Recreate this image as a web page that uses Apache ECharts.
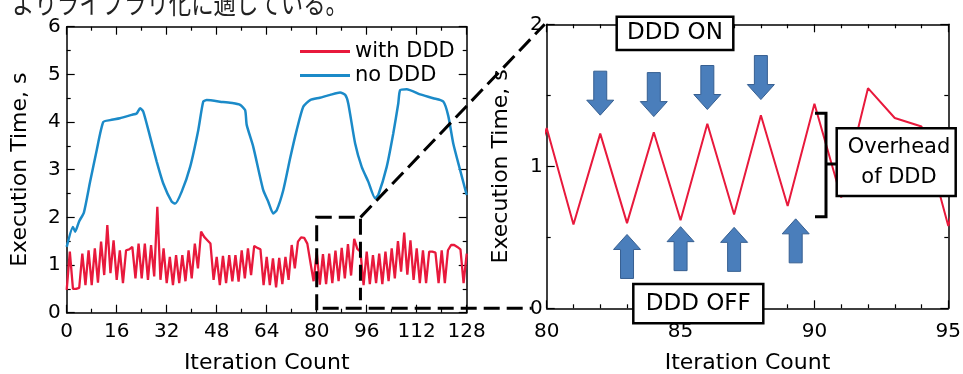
<!DOCTYPE html>
<html>
<head>
<meta charset="utf-8">
<script src="https://cdn.jsdelivr.net/npm/echarts@6/dist/echarts.min.js"></script>
<style>
  html, body { margin: 0; padding: 0; background: #fff; }
  #chart { width: 963px; height: 374px; }
</style>
</head>
<body>
<div id="chart"></div>
<script>
// Execution time per iteration with DDD (index = iteration 0..128)
const withDdd = [
  0.48, 1.28, 0.50, 0.50, 0.52, 1.24, 0.58, 1.31, 0.58, 1.35, 0.63, 1.49, 0.79, 1.84, 0.83, 1.52,
  0.69, 1.31, 0.62, 1.31, 1.33, 1.38, 0.72, 1.45, 0.72, 1.45, 0.69, 1.42, 0.76, 2.22, 0.69, 1.35,
  0.62, 1.17, 0.58, 1.21, 0.62, 1.21, 0.66, 1.31, 0.72, 1.45, 0.93, 1.70, 1.59, 1.52, 1.45, 0.69,
  1.17, 0.58, 1.19, 0.62, 1.21, 0.66, 1.21, 0.65, 1.31, 0.72, 1.35, 0.79, 1.40, 1.36, 1.33, 0.58,
  1.17, 0.58, 1.14, 0.53, 1.15, 0.60, 1.17, 0.69, 1.42, 0.93, 1.49, 1.58, 1.57, 1.45, 1.05, 0.66,
  1.27, 0.59, 1.23, 0.60, 1.24, 0.62, 1.30, 0.66, 1.36, 0.72, 1.44, 0.78, 1.55, 1.34, 1.28, 0.58,
  1.28, 0.60, 1.21, 0.62, 1.24, 0.60, 1.28, 0.66, 1.35, 0.72, 1.50, 0.86, 1.68, 0.80, 1.52, 0.69,
  1.35, 0.62, 1.31, 0.62, 1.28, 1.28, 1.26, 0.62, 1.31, 0.62, 1.31, 1.42, 1.42, 1.38, 1.33, 0.62,
  1.24
];

// Execution time without DDD, sampled along the curve
const noDddIter = [
  0, 2, 2.7, 4, 5.5, 7.5, 9.6, 11.7, 13.9, 17, 20.8, 22.4, 23.5, 24.5, 26.7, 28.8, 30.9,
  33.6, 34.7, 36.8, 39.5, 42.1, 43.7, 44.8, 50, 53, 55.5, 57.1, 57.6, 59.7, 62.9, 64.5,
  66.1, 67.2, 69.3, 71.5, 73.6, 75.7, 77.9, 81, 84.3, 87.5, 89.1, 90.1, 92.3, 94.4, 96.5,
  98.7, 99.7, 102.4, 104.5, 106.1, 106.7, 108.8, 113.1, 117.3, 120.5, 122.1, 123.7, 125.9, 128
];
const noDddTime = [
  1.38, 1.80, 1.70, 1.92, 2.10, 2.75, 3.41, 4.00, 4.04, 4.08, 4.15, 4.18, 4.29, 4.22, 3.69, 3.17, 2.71,
  2.33, 2.29, 2.54, 3.06, 3.83, 4.43, 4.46, 4.42, 4.40, 4.36, 4.25, 3.94, 3.48, 2.57, 2.33,
  2.08, 2.15, 2.57, 3.24, 3.83, 4.32, 4.46, 4.51, 4.57, 4.62, 4.57, 4.39, 3.55, 3.06, 2.75,
  2.40, 2.47, 3.06, 3.76, 4.39, 4.67, 4.69, 4.58, 4.50, 4.43, 4.13, 3.55, 2.99, 2.47
];

// Axis ranges and tick steps
const leftX = { min: 0, max: 128, step: 16, minor: 2 };
const leftY = { min: 0, max: 6, step: 1, minor: 2 };
const rightX = { min: 80, max: 95, step: 5, minor: 5 };
const rightY = { min: 0, max: 2, step: 1, minor: 2 };

// Arrow anchors in zoomed-panel coordinates: [iteration, tip value]
const onArrowX = [82, 84, 86, 88];
const onArrowTip = [1.36, 1.35, 1.40, 1.47];
const offArrowX = [83, 85, 87, 89.3];
const offArrowTip = [0.52, 0.575, 0.57, 0.63];

const RED = '#e8193c';
const BLUE = '#1b8ac8';
const ARROW_FILL = '#4a7ebb';
const ARROW_STROKE = '#365f91';
const FONT = 'DejaVu Sans';

const chart = echarts.init(document.getElementById('chart'), null, { renderer: 'canvas' });

function axis(range, opts) {
  return {
    type: 'value',
    gridIndex: opts.grid,
    position: opts.position,
    min: range.min,
    max: range.max,
    interval: range.step,
    name: opts.name || '',
    nameLocation: 'middle',
    nameGap: opts.nameGap || 0,
    nameRotate: opts.nameRotate,
    nameTextStyle: { fontFamily: FONT, fontSize: 22, color: '#000' },
    axisLine: { show: true, onZero: false, lineStyle: { color: '#000', width: 1.5 } },
    axisTick: { show: true, inside: true, length: 8, lineStyle: { color: '#000', width: 1.2 } },
    minorTick: { show: true, splitNumber: range.minor, length: 4, lineStyle: { color: '#000', width: 1.2 } },
    splitLine: { show: false },
    minorSplitLine: { show: false },
    axisLabel: {
      show: !opts.mirror,
      color: '#000',
      fontFamily: FONT,
      fontSize: 20,
      margin: opts.labelMargin || 8,
      showMinLabel: true,
      showMaxLabel: true
    }
  };
}

const option = {
  animation: false,
  backgroundColor: '#fff',
  textStyle: { fontFamily: FONT },
  grid: [
    { left: 66.7, top: 26.7, width: 400, height: 286, outerBoundsMode: 'none', containLabel: false },
    { left: 546.7, top: 24.3, width: 401.6, height: 284, outerBoundsMode: 'none', containLabel: false }
  ],
  legend: {
    data: ['with DDD', 'no DDD'],
    orient: 'vertical',
    left: 300,
    top: 41,
    padding: 0,
    itemWidth: 50,
    itemHeight: 3,
    itemGap: 3,
    icon: 'rect',
    selectedMode: false,
    textStyle: { fontFamily: FONT, fontSize: 21, color: '#000' }
  },
  xAxis: [
    axis(leftX, { grid: 0, position: 'bottom', name: 'Iteration Count', nameGap: 40, labelMargin: 9 }),
    axis(leftX, { grid: 0, position: 'top', mirror: true }),
    axis(rightX, { grid: 1, position: 'bottom', name: 'Iteration Count', nameGap: 44, labelMargin: 13 }),
    axis(rightX, { grid: 1, position: 'top', mirror: true })
  ],
  yAxis: [
    axis(leftY, { grid: 0, position: 'left', name: 'Execution Time, s', nameGap: 35, nameRotate: 90, labelMargin: 6 }),
    axis(leftY, { grid: 0, position: 'right', mirror: true }),
    axis(rightY, { grid: 1, position: 'left', name: 'Execution Time, s', nameGap: 34, nameRotate: 90, labelMargin: 4 }),
    axis(rightY, { grid: 1, position: 'right', mirror: true })
  ],
  series: [
    {
      name: 'with DDD',
      type: 'line',
      xAxisIndex: 0,
      yAxisIndex: 0,
      data: withDdd.map((v, i) => [i, v]),
      symbol: 'none',
      lineStyle: { color: RED, width: 2.3 },
      itemStyle: { color: RED },
      z: 2
    },
    {
      name: 'no DDD',
      type: 'line',
      xAxisIndex: 0,
      yAxisIndex: 0,
      data: noDddIter.map((x, i) => [x, noDddTime[i]]),
      symbol: 'none',
      smooth: 0.2,
      lineStyle: { color: BLUE, width: 2.5 },
      itemStyle: { color: BLUE },
      z: 3
    },
    {
      name: 'with DDD (iterations 80-95)',
      type: 'line',
      xAxisIndex: 2,
      yAxisIndex: 2,
      data: withDdd.map((v, i) => [i, v]),
      symbol: 'none',
      clip: true,
      lineStyle: { color: RED, width: 2 },
      itemStyle: { color: RED },
      z: 2
    }
  ]
};

chart.setOption(option);

// Annotation layer, positioned through the series' coordinate systems
const toLeft = p => chart.convertToPixel({ seriesIndex: 0 }, p);
const toRight = p => chart.convertToPixel({ seriesIndex: 2 }, p);

const dash = { stroke: '#000', lineWidth: 3, lineDash: [16, 7], fill: null };

const boxTL = toLeft([rightX.min, rightY.max]);
const boxTR = toLeft([94, rightY.max]);
const zoomTop = toRight([rightX.min, rightY.max]);
const zoomZero = toRight([rightX.min, rightY.min]);

const graphics = [];

// Dashed selection box on the overview and its connectors to the zoomed panel
graphics.push({
  type: 'polyline', z: 50, silent: true,
  shape: { points: [[boxTL[0], zoomZero[1] + 2], [boxTL[0], boxTL[1]], [boxTR[0], boxTR[1]], [boxTR[0], zoomZero[1] - 8]] },
  style: dash
});
graphics.push({
  type: 'line', z: 50, silent: true,
  shape: { x1: boxTR[0], y1: boxTR[1], x2: zoomTop[0] - 2, y2: zoomTop[1] },
  style: dash
});
graphics.push({
  type: 'line', z: 50, silent: true,
  shape: { x1: boxTL[0] + 6, y1: zoomZero[1], x2: zoomZero[0] - 15, y2: zoomZero[1] },
  style: dash
});

// Block arrows: dir = 1 points down, dir = -1 points up
function blockArrow(cx, tipY, dir) {
  const len = 44, head = 15, shaftHalf = 6.5, headHalf = 13.5;
  const base = tipY - dir * head;
  const tail = tipY - dir * len;
  return {
    type: 'polygon', z: 60, silent: true,
    shape: {
      points: [
        [cx - shaftHalf, tail], [cx + shaftHalf, tail], [cx + shaftHalf, base],
        [cx + headHalf, base], [cx, tipY], [cx - headHalf, base], [cx - shaftHalf, base]
      ]
    },
    style: { fill: ARROW_FILL, stroke: ARROW_STROKE, lineWidth: 1 }
  };
}
onArrowX.forEach((x, i) => {
  const p = toRight([x, onArrowTip[i]]);
  graphics.push(blockArrow(p[0], p[1], 1));
});
offArrowX.forEach((x, i) => {
  const p = toRight([x, offArrowTip[i]]);
  graphics.push(blockArrow(p[0], p[1], -1));
});

// Labelled boxes
function labelBox(x, y, w, h, lines, size, tx) {
  const items = [{
    type: 'rect', z: 70, silent: true,
    shape: { x: x, y: y, width: w, height: h },
    style: { fill: '#fff', stroke: '#000', lineWidth: 2.5 }
  }];
  const gap = 30;
  const cy = y + h / 2 - (lines.length - 1) * gap / 2;
  lines.forEach((t, i) => {
    items.push({
      type: 'text', z: 71, silent: true,
      style: {
        text: t, x: tx !== undefined ? tx : x + w / 2, y: cy + i * gap,
        align: 'center', verticalAlign: 'middle',
        font: size + 'px "' + FONT + '"', fill: '#000'
      }
    });
  });
  return items;
}
graphics.push(...labelBox(616.7, 16.7, 116.6, 33.3, ['DDD ON'], 23));
graphics.push(...labelBox(633.3, 284, 130, 39.3, ['DDD OFF'], 23));
graphics.push(...labelBox(836.7, 128.3, 119, 67.7, ['Overhead', 'of DDD'], 21, 899));

// Bracket spanning the overhead range
graphics.push({
  type: 'polyline', z: 65, silent: true,
  shape: { points: [[815, 113.3], [826, 113.3], [826, 216.7], [815, 216.7]] },
  style: { stroke: '#000', lineWidth: 3, fill: null }
});
graphics.push({
  type: 'line', z: 65, silent: true,
  shape: { x1: 826, y1: 164, x2: 837, y2: 164 },
  style: { stroke: '#000', lineWidth: 3 }
});

// Sentence running above the figure (only its lower part fits on the page)
graphics.push({
  type: 'text', z: 80, silent: true,
  x: 12, y: 17, scaleX: 0.8,
  style: {
    text: 'よりライブラリ化に適している。', x: 0, y: 0,
    align: 'left', verticalAlign: 'bottom',
    font: '28px "Noto Sans CJK JP"', fill: '#222'
  }
});

chart.setOption({ graphic: graphics });
</script>
</body>
</html>
